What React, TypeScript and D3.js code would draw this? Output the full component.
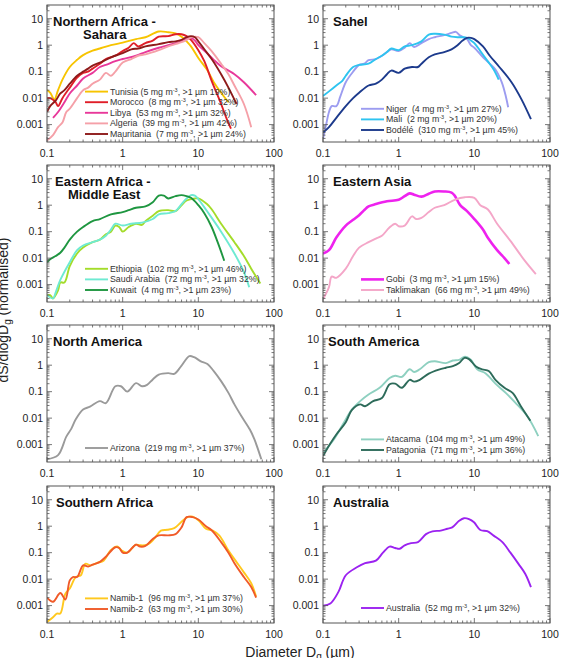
import React from "react";
import * as d3 from "d3";

type Pt = [number, number];

const xTickValues = [0.1, 1, 10, 100];
const xTickLabels = ["0.1", "1", "10", "100"];
const yTickValues = [0.001, 0.01, 0.1, 1, 10];
const yTickLabels = ["0.001", "0.01", "0.1", "1", "10"];

// [diameter µm, dS/dlogDg normalised]
const tunisia: Pt[] = [[0.1,0.02],[0.11,0.016],[0.125,0.009],[0.14,0.02],[0.16,0.05],[0.2,0.15],[0.25,0.28],[0.3,0.42],[0.4,0.62],[0.5,0.75],[0.7,1.0],[1,1.25],[1.5,1.7],[2,2.0],[3,3.3],[4,3.1],[5,2.8],[6,2.1],[7,1.4],[8,0.9],[10,0.33],[13,0.12],[16,0.04],[20,0.016],[25,0.007]];
const morocco: Pt[] = [[0.1,0.01],[0.11,0.01],[0.13,0.007],[0.14,0.005],[0.16,0.01],[0.2,0.025],[0.25,0.06],[0.3,0.09],[0.35,0.1],[0.4,0.13],[0.5,0.2],[0.6,0.3],[0.7,0.35],[0.8,0.4],[1,0.6],[1.2,0.8],[1.4,1.2],[1.6,0.9],[2,1.2],[2.5,1.5],[3,2.1],[4,2.2],[5,2.6],[6,2.6],[7,2.2],[8,1.6],[10,0.65],[12,0.25],[15,0.045],[20,0.006],[24,0.0015],[27,0.0007]];
const libya: Pt[] = [[0.12,0.0018],[0.14,0.003],[0.17,0.007],[0.2,0.015],[0.25,0.03],[0.3,0.055],[0.4,0.09],[0.5,0.15],[0.6,0.18],[0.8,0.25],[1,0.3],[1.5,0.4],[2,0.55],[3,0.8],[4,1.0],[5,1.2],[6,1.4],[7,1.7],[8,1.9],[9,1.5],[10,1.0],[13,0.5],[16,0.28],[20,0.16],[30,0.08],[40,0.04],[58,0.013]];
const algeria: Pt[] = [[0.1,0.00025],[0.12,0.0004],[0.14,0.0008],[0.16,0.0012],[0.18,0.003],[0.2,0.004],[0.25,0.01],[0.3,0.02],[0.35,0.025],[0.4,0.035],[0.5,0.05],[0.6,0.09],[0.7,0.07],[0.8,0.1],[1,0.22],[1.3,0.3],[1.6,0.4],[2,0.45],[3,0.65],[4,0.9],[5,1.1],[6,1.3],[7,1.6],[8,2.0],[10,2.0],[12,1.2],[15,0.6],[20,0.2],[25,0.08],[30,0.03],[40,0.006],[50,0.0008]];
const mauritania: Pt[] = [[0.1,0.003],[0.11,0.005],[0.13,0.008],[0.15,0.015],[0.17,0.02],[0.2,0.035],[0.25,0.07],[0.3,0.1],[0.35,0.13],[0.4,0.17],[0.5,0.22],[0.7,0.35],[1,0.5],[1.3,0.7],[1.6,0.75],[2,0.9],[3,1.1],[4,1.3],[5,1.4],[6,1.6],[7,2.0],[8,2.2],[9,2.0],[10,1.4],[12,0.7],[15,0.3],[20,0.08],[25,0.025],[32,0.006]];

const niger: Pt[] = [[0.1,0.0003],[0.11,0.001],[0.12,0.003],[0.13,0.005],[0.15,0.005],[0.17,0.012],[0.2,0.04],[0.25,0.1],[0.3,0.18],[0.35,0.2],[0.4,0.27],[0.5,0.3],[0.6,0.4],[0.7,0.55],[0.8,0.7],[1,0.6],[1.2,0.8],[1.4,1.2],[1.6,0.85],[2,1.2],[2.5,1.7],[3,2.0],[4,2.4],[5,2.9],[5.7,3.2],[6.5,2.3],[8,1.7],[9,1.0],[10,0.8],[12.5,0.4],[16,0.2],[19,0.12],[23,0.04],[26,0.012],[28,0.0045]];
const mali: Pt[] = [[0.1,0.012],[0.12,0.018],[0.15,0.03],[0.18,0.045],[0.2,0.07],[0.25,0.15],[0.3,0.18],[0.4,0.2],[0.5,0.3],[0.6,0.4],[0.7,0.55],[0.8,0.75],[1,0.65],[1.2,0.9],[1.5,1.0],[2,1.4],[2.5,2.5],[3,2.7],[4,2.5],[5,2.1],[6,2.0],[7,2.0],[8,1.9],[9,1.5],[10,1.2],[12,0.6],[15,0.25],[18,0.12],[21,0.05]];
const bodele: Pt[] = [[0.1,0.0005],[0.12,0.0008],[0.15,0.0018],[0.2,0.005],[0.25,0.01],[0.3,0.016],[0.4,0.03],[0.5,0.035],[0.6,0.05],[0.7,0.08],[0.8,0.11],[1,0.09],[1.2,0.13],[1.5,0.15],[1.8,0.15],[2,0.2],[2.5,0.35],[3,0.45],[4,0.55],[5,0.7],[6,1.0],[7,1.5],[8,1.9],[9,1.9],[10,1.7],[13,0.9],[16,0.4],[21,0.16],[31,0.04],[42,0.009],[56,0.0016]];

const ethiopia: Pt[] = [[0.1,0.0004],[0.11,0.0004],[0.12,0.0003],[0.14,0.0006],[0.15,0.0012],[0.17,0.0012],[0.2,0.005],[0.25,0.015],[0.3,0.025],[0.4,0.04],[0.5,0.05],[0.6,0.08],[0.7,0.1],[0.8,0.17],[0.9,0.15],[1,0.1],[1.2,0.15],[1.5,0.2],[1.8,0.18],[2,0.25],[2.5,0.4],[3,0.6],[4,0.65],[5,0.6],[6,1.0],[7,1.5],[9,1.8],[10,1.8],[13,1.1],[15,0.7],[20,0.2],[30,0.04],[40,0.012],[50,0.004],[66,0.0011]];
const saudiArabia: Pt[] = [[0.1,0.0004],[0.12,0.0003],[0.13,0.0005],[0.15,0.0015],[0.2,0.007],[0.25,0.02],[0.3,0.03],[0.4,0.04],[0.5,0.05],[0.6,0.07],[0.7,0.12],[0.8,0.2],[1,0.17],[1.3,0.2],[1.8,0.22],[2.5,0.3],[3,0.45],[4,0.5],[5,0.6],[6,1.1],[7,1.8],[8,2.4],[9,2.3],[10,1.7],[13,0.6],[20,0.1],[30,0.015],[40,0.003],[47,0.0008]];
const kuwait: Pt[] = [[0.1,0.007],[0.11,0.009],[0.13,0.012],[0.15,0.016],[0.17,0.025],[0.2,0.05],[0.25,0.1],[0.3,0.15],[0.4,0.25],[0.5,0.3],[0.7,0.45],[1,0.55],[1.2,0.65],[1.5,0.8],[2,0.9],[2.5,1.3],[3,2.3],[3.5,2.3],[4,1.8],[5,2.2],[6,2.4],[7,2.2],[8,1.9],[10,1.0],[12,0.5],[15,0.15],[18,0.04],[22,0.008]];

const gobi: Pt[] = [[0.1,0.015],[0.12,0.02],[0.15,0.06],[0.2,0.17],[0.25,0.28],[0.3,0.42],[0.35,0.65],[0.4,0.9],[0.5,1.1],[0.7,1.4],[1,1.6],[1.2,2.2],[1.4,2.8],[1.6,2.5],[2,2.1],[2.5,2.7],[3,3.3],[4,3.3],[5,3.0],[5.5,2.3],[6.5,1.0],[8,0.6],[10,0.3],[13,0.12],[15,0.06],[20,0.02],[25,0.01],[29,0.006]];
const taklimakan: Pt[] = [[0.1,0.00028],[0.12,0.0008],[0.13,0.002],[0.15,0.0018],[0.2,0.004],[0.25,0.012],[0.3,0.025],[0.4,0.04],[0.5,0.055],[0.6,0.07],[0.75,0.14],[0.9,0.2],[1,0.16],[1.2,0.17],[1.5,0.38],[1.7,0.3],[2,0.33],[2.5,0.55],[3,0.8],[4,1.0],[5.5,1.6],[7.5,2.0],[10,1.9],[12,1.0],[15,0.7],[20,0.2],[30,0.045],[45,0.009],[65,0.0025]];

const arizona: Pt[] = [[0.1,0.00028],[0.14,0.0004],[0.18,0.002],[0.21,0.004],[0.24,0.009],[0.3,0.021],[0.37,0.027],[0.5,0.044],[0.6,0.037],[0.8,0.16],[0.95,0.16],[1.15,0.1],[1.5,0.21],[1.8,0.16],[2.1,0.18],[2.5,0.29],[3,0.44],[4,0.5],[4.8,0.47],[5.9,0.9],[7.6,2.2],[8.8,2.0],[10.8,1.4],[13.2,1.1],[16,0.6],[20,0.25],[25,0.09],[30,0.033],[37,0.012],[48,0.0037],[55,0.0016],[68,0.00028]];

const atacama: Pt[] = [[0.1,0.0005],[0.14,0.0016],[0.19,0.007],[0.24,0.021],[0.31,0.044],[0.4,0.078],[0.56,0.14],[0.76,0.33],[0.9,0.4],[1.1,0.36],[1.4,0.7],[1.6,0.55],[1.9,0.7],[2.5,1.3],[3,1.4],[4.2,1.2],[5.2,1.5],[6.3,1.6],[7.5,2.1],[9,1.6],[10.9,0.7],[14,0.5],[19,0.2],[26,0.09],[35,0.038],[50,0.012],[70,0.0021]];
const patagonia: Pt[] = [[0.1,0.00037],[0.125,0.0011],[0.15,0.0024],[0.2,0.007],[0.24,0.02],[0.31,0.033],[0.36,0.028],[0.46,0.044],[0.6,0.058],[0.76,0.19],[0.9,0.2],[1.1,0.14],[1.4,0.28],[1.6,0.24],[1.9,0.28],[2.5,0.48],[3.4,0.68],[4.2,0.8],[5.2,0.92],[6.3,1.2],[7.4,1.9],[8.5,1.7],[10.5,0.9],[12.7,0.7],[15.5,0.6],[19,0.28],[25,0.14],[32,0.09],[41,0.029],[55,0.008]];

const namib1: Pt[] = [[0.1,0.00024],[0.12,0.00036],[0.135,0.0005],[0.15,0.0005],[0.175,0.0028],[0.2,0.0044],[0.24,0.012],[0.28,0.014],[0.32,0.038],[0.38,0.033],[0.46,0.041],[0.56,0.05],[0.69,0.12],[0.85,0.17],[0.97,0.12],[1.15,0.1],[1.5,0.2],[1.7,0.19],[2.1,0.2],[2.6,0.33],[3.2,0.68],[3.9,0.73],[4.8,0.84],[5.9,1.4],[7.2,2.2],[8.4,2.3],[10.2,1.6],[12.6,0.8],[15.5,0.68],[19,0.44],[25,0.12],[31,0.05],[40,0.018],[50,0.007],[58,0.0022]];
const namib2: Pt[] = [[0.1,0.002],[0.12,0.0014],[0.15,0.003],[0.175,0.0017],[0.2,0.009],[0.22,0.012],[0.25,0.012],[0.3,0.033],[0.35,0.03],[0.4,0.035],[0.5,0.045],[0.6,0.07],[0.8,0.16],[0.9,0.15],[1,0.1],[1.15,0.1],[1.5,0.2],[1.7,0.17],[2,0.18],[2.5,0.33],[3,0.45],[4,0.45],[5,0.5],[6,0.9],[7,2.2],[8.4,2.2],[10,1.8],[12.6,1.0],[15,0.7],[20,0.25],[25,0.1],[30,0.04],[40,0.012],[50,0.005],[58,0.002]];

const australia: Pt[] = [[0.1,0.001],[0.125,0.0012],[0.16,0.0033],[0.2,0.014],[0.28,0.028],[0.36,0.04],[0.5,0.05],[0.62,0.1],[0.76,0.17],[0.9,0.15],[1.03,0.14],[1.2,0.19],[1.46,0.23],[1.8,0.25],[2.3,0.5],[2.8,0.64],[3.6,0.68],[4.4,0.8],[5.1,0.9],[6.3,1.6],[7.3,2.0],[8.5,1.85],[9.9,1.4],[12,0.72],[14.8,0.65],[18,0.44],[23.5,0.25],[30,0.1],[38.5,0.037],[47,0.016],[56,0.005]];

interface Series { name: string; mg: number; pct: number; color: string; data: Pt[]; sep?: string; w?: number }
interface Panel { title: string[]; indent: number[]; col: number; row: number; legendBottom: number; series: Series[] }

const panels: Panel[] = [
  { title: ["Northern Africa -", "Sahara"], indent: [6, 36], col: 0, row: 0, legendBottom: 8, series: [
    { name: "Tunisia", sep: " ", mg: 5, pct: 19, color: "#f7c400", data: tunisia },
    { name: "Morocco", mg: 8, pct: 32, color: "#e01e28", data: morocco },
    { name: "Libya", mg: 53, pct: 32, color: "#e8389a", data: libya },
    { name: "Algeria", mg: 39, pct: 42, color: "#f5a0a8", data: algeria },
    { name: "Mauritania", mg: 7, pct: 24, color: "#8e1a1a", data: mauritania },
  ]},
  { title: ["Sahel"], indent: [10], col: 1, row: 0, legendBottom: 12, series: [
    { name: "Niger", mg: 4, pct: 27, color: "#9c9cf0", data: niger },
    { name: "Mali", mg: 2, pct: 20, color: "#2ec4f0", data: mali },
    { name: "Bodélé", mg: 310, pct: 45, color: "#1c3a8c", data: bodele },
  ]},
  { title: ["Eastern Africa -", "Middle East"], indent: [8, 21], col: 0, row: 1, legendBottom: 12, series: [
    { name: "Ethiopia", mg: 102, pct: 46, color: "#a4dc2a", data: ethiopia },
    { name: "Saudi Arabia", mg: 72, pct: 32, color: "#6eead2", data: saudiArabia },
    { name: "Kuwait", mg: 4, pct: 23, color: "#1e9640", data: kuwait },
  ]},
  { title: ["Eastern Asia"], indent: [10], col: 1, row: 1, legendBottom: 12, series: [
    { name: "Gobi", mg: 3, pct: 15, color: "#ee22ee", data: gobi, w: 2.6 },
    { name: "Taklimakan", mg: 66, pct: 49, color: "#f4a6c8", data: taklimakan },
  ]},
  { title: ["North America"], indent: [6], col: 0, row: 2, legendBottom: 14, series: [
    { name: "Arizona", mg: 219, pct: 37, color: "#9a9a9a", data: arizona },
  ]},
  { title: ["South America"], indent: [5], col: 1, row: 2, legendBottom: 12, series: [
    { name: "Atacama", mg: 104, pct: 49, color: "#8ed0c0", data: atacama },
    { name: "Patagonia", mg: 71, pct: 36, color: "#2d6b5a", data: patagonia },
  ]},
  { title: ["Southern Africa"], indent: [9], col: 0, row: 3, legendBottom: 14, series: [
    { name: "Namib-1", mg: 96, pct: 37, color: "#ffc81e", data: namib1 },
    { name: "Namib-2", mg: 63, pct: 30, color: "#f05a28", data: namib2 },
  ]},
  { title: ["Australia"], indent: [10], col: 1, row: 3, legendBottom: 15, series: [
    { name: "Australia", mg: 52, pct: 32, color: "#9b22f0", data: australia },
  ]},
];

const FONT = "'Liberation Sans', Arial, Helvetica, sans-serif";
const COLS = [47, 323];
const ROWS = [5, 165, 325, 486];
const PW = 227;
const PH = 137;
const AXIS = "#555";

const isMajor = (v: number) => Math.abs(Math.log10(v) - Math.round(Math.log10(v))) < 1e-6;

function PanelView({ p, idx }: { p: Panel; idx: number }) {
  const x0 = COLS[p.col];
  const y0 = ROWS[p.row];
  const x = d3.scaleLog().domain([0.1, 100]).range([x0, x0 + PW]);
  const y = d3.scaleLog().domain([2.2e-4, 33]).range([y0 + PH, y0]);
  const line = d3.line<Pt>().x(d => x(d[0])).y(d => y(d[1])).curve(d3.curveCatmullRom.alpha(0.5));
  const n = p.series.length;
  const legY = (i: number) => y0 + PH - p.legendBottom - (n - 1 - i) * 10.6;

  return (
    <g>
      <defs>
        <clipPath id={`clip${idx}`}>
          <rect x={x0} y={y0} width={PW} height={PH} />
        </clipPath>
      </defs>
      <g clipPath={`url(#clip${idx})`}>
        {p.series.map(s => (
          <path key={s.name} d={line(s.data) || ""} fill="none" stroke={s.color} strokeWidth={s.w || 1.9} strokeLinejoin="round" />
        ))}
      </g>
      <rect x={x0} y={y0} width={PW} height={PH} fill="none" stroke={AXIS} strokeWidth={1} />
      {x.ticks().map((v, i) => {
        const len = isMajor(v) ? 5 : 2.5;
        const px = x(v);
        return (
          <g key={`x${i}`} stroke={AXIS} strokeWidth={0.8}>
            <line x1={px} x2={px} y1={y0 + PH} y2={y0 + PH - len} />
            <line x1={px} x2={px} y1={y0} y2={y0 + len} />
          </g>
        );
      })}
      {y.ticks().map((v, i) => {
        const len = isMajor(v) ? 5 : 2.5;
        const py = y(v);
        return (
          <g key={`y${i}`} stroke={AXIS} strokeWidth={0.8}>
            <line x1={x0} x2={x0 + len} y1={py} y2={py} />
            <line x1={x0 + PW} x2={x0 + PW - len} y1={py} y2={py} />
          </g>
        );
      })}
      {xTickValues.map((v, i) => (
        <text key={`xl${i}`} x={x(v)} y={y0 + PH + 15} textAnchor="middle" fontSize={10.5} fill="#222">{xTickLabels[i]}</text>
      ))}
      {yTickValues.map((v, i) => (
        <text key={`yl${i}`} x={x0 - 4} y={y(v) + 3.8} textAnchor="end" fontSize={10.5} fill="#222">{yTickLabels[i]}</text>
      ))}
      {p.title.map((t, i) => (
        <text key={`t${i}`} x={x0 + p.indent[i]} y={y0 + 21 + i * 13} fontSize={13} fontWeight="bold" fill="#111">{t}</text>
      ))}
      {p.series.map((s, i) => (
        <g key={`lg${i}`}>
          <line x1={x0 + 38} x2={x0 + 61} y1={legY(i)} y2={legY(i)} stroke={s.color} strokeWidth={s.w || 1.9} />
          <text x={x0 + 63} y={legY(i) + 3} fontSize={8.8} fill="#333" style={{ whiteSpace: "pre" }}>
            {`${s.name}${s.sep ?? "  "}(${s.mg} mg m`}
            <tspan dy={-3} fontSize={5.5}>-3</tspan>
            <tspan dy={3}>{`, >1 µm ${s.pct}%)`}</tspan>
          </text>
        </g>
      ))}
    </g>
  );
}

export default function App() {
  return (
    <svg width={563} height={658} style={{ position: "absolute", left: 0, top: 0, background: "#fff" }} fontFamily={FONT}>
      {panels.map((p, i) => <PanelView key={i} p={p} idx={i} />)}
      <text transform="translate(8,310) rotate(-90)" textAnchor="middle" fontSize={14} fill="#222">
        dS/dlogD<tspan dy={3} fontSize={10}>g</tspan><tspan dy={-3}> (normalised)</tspan>
      </text>
      <text x={300} y={657} textAnchor="middle" fontSize={14} fill="#222">
        Diameter D<tspan dy={3} fontSize={10}>g</tspan><tspan dy={-3}> (µm)</tspan>
      </text>
    </svg>
  );
}
